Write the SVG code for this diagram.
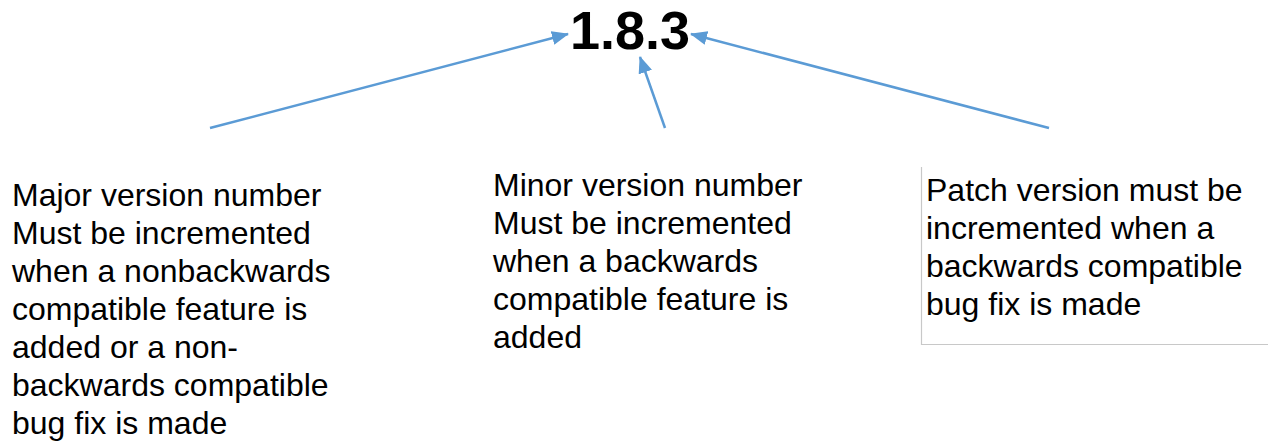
<svg xmlns="http://www.w3.org/2000/svg" width="1268" height="443" viewBox="0 0 1268 443">
<style>
.t{font-family:"Liberation Sans",Arial,Helvetica,sans-serif;font-size:32px;fill:#000}
.title{font-family:"Liberation Sans",Arial,Helvetica,sans-serif;font-size:54px;font-weight:bold;fill:#000}
.c{stroke:#5b9bd5;stroke-width:2.5;fill:none}
.box{stroke:#c8c8c8;stroke-width:1.2;fill:none}
</style>
<defs>
<marker id="ah" markerUnits="userSpaceOnUse" markerWidth="18" markerHeight="14" refX="16" refY="7" orient="auto">
<path d="M0,0 L17,7 L0,14 Z" fill="#5b9bd5"/>
</marker>
</defs>
<g id="version">
<text class="title" x="630" y="49" text-anchor="middle">1.8.3</text>
</g>
<g id="major">
<text class="t" x="12" y="206">
<tspan x="12" y="206">Major version number</tspan>
<tspan x="12" y="244">Must be incremented</tspan>
<tspan x="12" y="282">when a nonbackwards</tspan>
<tspan x="12" y="320">compatible feature is</tspan>
<tspan x="12" y="358">added or a non-</tspan>
<tspan x="12" y="396">backwards compatible</tspan>
<tspan x="12" y="434">bug fix is made</tspan>
</text>
</g>
<g id="minor">
<text class="t" x="493" y="196">
<tspan x="493" y="196">Minor version number</tspan>
<tspan x="493" y="234">Must be incremented</tspan>
<tspan x="493" y="272">when a backwards</tspan>
<tspan x="493" y="310">compatible feature is</tspan>
<tspan x="493" y="348">added</tspan>
</text>
</g>
<g id="patch">
<path class="box" d="M921.5,167 V344.5 H1268"/>
<text class="t" x="926" y="201">
<tspan x="926" y="201">Patch version must be</tspan>
<tspan x="926" y="239">incremented when a</tspan>
<tspan x="926" y="277">backwards compatible</tspan>
<tspan x="926" y="315">bug fix is made</tspan>
</text>
</g>
<g id="connectors">
<line class="c" x1="210" y1="128" x2="568" y2="34" marker-end="url(#ah)"/>
<line class="c" x1="665" y1="128" x2="640" y2="57" marker-end="url(#ah)"/>
<line class="c" x1="1049" y1="128" x2="691" y2="34" marker-end="url(#ah)"/>
</g>
</svg>
